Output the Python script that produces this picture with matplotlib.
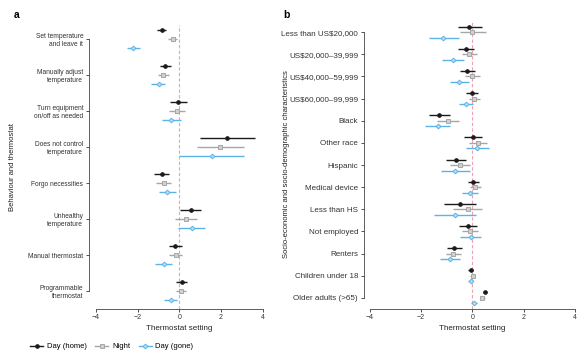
import matplotlib
matplotlib.use("Agg")
import matplotlib.pyplot as plt
import numpy as np
from matplotlib.lines import Line2D

# panel a: behaviour and thermostat
a_labels = ["Set temperature\nand leave it", "Manually adjust\ntemperature",
            "Turn equipment\non/off as needed", "Does not control\ntemperature",
            "Forgo necessities", "Unhealthy\ntemperature", "Manual thermostat",
            "Programmable\nthermostat"]
a_home = [-0.84, -0.67, -0.06, 2.28, -0.84, 0.54, -0.19, 0.11]
a_home_lo = [-1.07, -0.92, -0.46, 0.97, -1.20, 0.03, -0.48, -0.14]
a_home_hi = [-0.62, -0.41, 0.35, 3.62, -0.51, 1.02, 0.14, 0.38]
a_night = [-0.32, -0.78, -0.11, 1.93, -0.76, 0.32, -0.18, 0.10]
a_night_lo = [-0.54, -1.04, -0.51, 0.84, -1.10, -0.19, -0.51, -0.14]
a_night_hi = [-0.11, -0.51, 0.29, 3.08, -0.41, 0.86, 0.14, 0.33]
a_gone = [-2.22, -1.00, -0.38, 1.55, -0.59, 0.59, -0.76, -0.41]
a_gone_lo = [-2.53, -1.34, -0.84, 0.00, -1.00, -0.05, -1.16, -0.72]
a_gone_hi = [-1.90, -0.67, 0.10, 3.09, -0.18, 1.24, -0.35, -0.11]

# panel b: socio-economic and socio-demographic
b_labels = ["Less than US$20,000", "US$20,000\u201339,999", "US$40,000\u201359,999",
            "US$60,000\u201399,999", "Black", "Other race", "Hispanic",
            "Medical device", "Less than HS", "Not employed", "Renters",
            "Children under 18", "Older adults (>65)"]
b_home = [-0.12, -0.24, -0.21, -0.02, -1.30, 0.04, -0.65, 0.02, -0.50, -0.17, -0.72, -0.06, 0.50]
b_home_lo = [-0.58, -0.55, -0.50, -0.23, -1.70, -0.32, -1.03, -0.18, -1.10, -0.52, -1.01, -0.16, 0.42]
b_home_hi = [0.36, 0.06, 0.09, 0.21, -0.87, 0.39, -0.26, 0.25, 0.16, 0.18, -0.39, 0.04, 0.57]
b_night = [0.00, -0.12, -0.02, 0.08, -0.96, 0.22, -0.48, 0.12, -0.18, -0.09, -0.74, 0.02, 0.39]
b_night_lo = [-0.48, -0.40, -0.30, -0.14, -1.40, -0.13, -0.87, -0.10, -0.74, -0.39, -1.04, -0.08, 0.29]
b_night_hi = [0.52, 0.18, 0.30, 0.31, -0.52, 0.58, -0.08, 0.35, 0.39, 0.21, -0.44, 0.10, 0.49]
b_gone = [-1.13, -0.77, -0.52, -0.25, -1.36, 0.18, -0.66, -0.10, -0.66, -0.06, -0.88, -0.06, 0.08]
b_gone_lo = [-1.70, -1.18, -0.88, -0.52, -1.84, -0.26, -1.21, -0.39, -1.48, -0.47, -1.25, -0.16, -0.04]
b_gone_hi = [-0.53, -0.34, -0.14, 0.02, -0.88, 0.66, -0.10, 0.20, 0.16, 0.32, -0.48, 0.03, 0.18]

series = ["Day (home)", "Night", "Day (gone)"]
colors = ["#1a1a1a", "#a6a6a6", "#5ab4e6"]
faces = ["#1a1a1a", "#d0d0d0", "#b8e0f5"]
markers = ["o", "s", "D"]
msizes = [2.6, 2.6, 2.4]
offsets = [-0.25, 0.0, 0.25]

plt.rcParams['font.family'] = ['Liberation Sans', 'DejaVu Sans']

fig = plt.figure(figsize=(5.85, 3.59), dpi=100)
ax_a = fig.add_axes([0.1516, 0.1393, 0.310, 0.792])
ax_b = fig.add_axes([0.6215, 0.1393, 0.372, 0.805])


def draw_panel(ax, labels, data, xlim, ylim, ylabel, ylab_x, lab_size):
    y = np.arange(len(labels))
    ax.axvline(0, color="#e9a3b3", ls=(0, (3, 2)), lw=0.8, zorder=0)
    for i, (val, lo, hi) in enumerate(data):
        val = np.array(val)
        err = [val - np.array(lo), np.array(hi) - val]
        ax.errorbar(val, y + offsets[i], xerr=err, fmt=markers[i],
                    color=colors[i], mfc=faces[i], mec=colors[i],
                    ms=msizes[i], mew=0.7, elinewidth=1.0, capsize=0)
    ax.set_xlim(*xlim)
    ax.set_ylim(*ylim)
    ax.set_yticks(y)
    ax.set_yticklabels(labels, fontsize=lab_size, color="#333333")
    ax.set_xticks([-4, -2, 0, 2, 4])
    ax.tick_params(axis="x", labelsize=5, colors="#333333", length=2, width=0.6, pad=1.5)
    ax.tick_params(axis="y", length=2, width=0.6, pad=2, colors="#333333")
    for s in ["top", "right"]:
        ax.spines[s].set_visible(False)
    ax.spines["left"].set_bounds(y[0], y[-1])
    ax.spines["bottom"].set_bounds(-4, 4)
    for s in ["left", "bottom"]:
        ax.spines[s].set_linewidth(0.6)
        ax.spines[s].set_color("#444444")
    ax.set_xlabel("Thermostat setting", fontsize=5.8, color="#222222", labelpad=3)
    ax.set_ylabel(ylabel, fontsize=5.5, color="#222222")
    ax.yaxis.set_label_coords(ylab_x, 0.5)


draw_panel(ax_a, a_labels,
           [(a_home, a_home_lo, a_home_hi), (a_night, a_night_lo, a_night_hi),
            (a_gone, a_gone_lo, a_gone_hi)],
           (-4.35, 4.35), (7.5, -0.4), "Behaviour and thermostat", -0.40, 4.8)
draw_panel(ax_b, b_labels,
           [(b_home, b_home_lo, b_home_hi), (b_night, b_night_lo, b_night_hi),
            (b_gone, b_gone_lo, b_gone_hi)],
           (-4.25, 4.25), (12.5, -0.55),
           "Socio-economic and socio-demographic characteristics", -0.34, 5.8)

fig.text(0.024, 0.958, "a", fontsize=7.5, fontweight="bold", va="center")
fig.text(0.484, 0.958, "b", fontsize=7.5, fontweight="bold", va="center")

handles = [Line2D([], [], color=colors[i], marker=markers[i], mfc=faces[i],
                  mec=colors[i], ms=msizes[i], mew=0.7, lw=1.0)
           for i in range(3)]
fig.legend(handles, series, loc="center left", bbox_to_anchor=(0.04, 0.034),
           ncol=3, frameon=False, fontsize=5.5, handlelength=1.7,
           handletextpad=0.5, columnspacing=1.1)

fig.savefig("out.png", dpi=100)
